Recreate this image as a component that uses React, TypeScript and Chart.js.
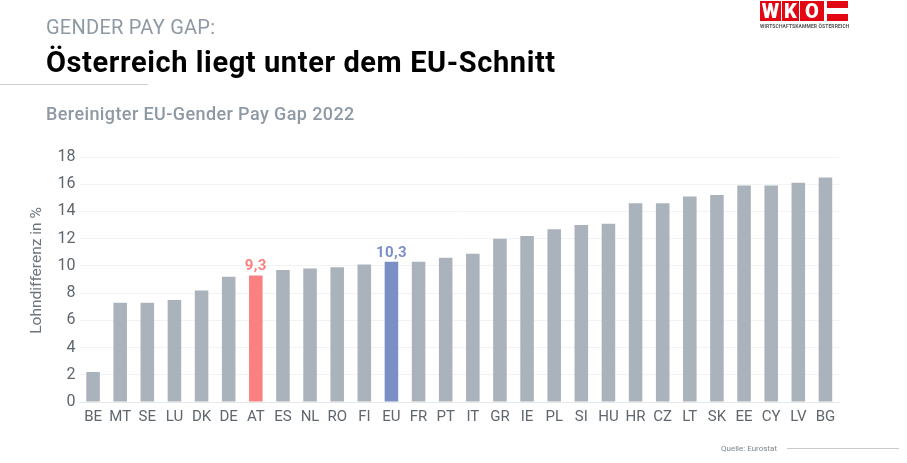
import React, { useEffect, useRef } from "react";
import { Chart, registerables } from "chart.js";

Chart.register(...registerables);

const categories = ["BE","MT","SE","LU","DK","DE","AT","ES","NL","RO","FI","EU","FR","PT","IT","GR","IE","PL","SI","HU","HR","CZ","LT","SK","EE","CY","LV","BG"];
const gapValues = [2.2,7.3,7.3,7.5,8.2,9.2,9.3,9.7,9.8,9.9,10.1,10.3,10.3,10.6,10.9,12.0,12.2,12.7,13.0,13.1,14.6,14.6,15.1,15.2,15.9,15.9,16.1,16.5];
const labelled: Record<string, string> = { AT: "#fb8080", EU: "#7b8fc4" };
const axisTitle = "Lohndifferenz in %";
const barGrey = "#aab3bc";
const FONT = "Roboto, 'Noto Sans', sans-serif";

const valueLabels = {
  id: "valueLabels",
  afterDatasetsDraw(chart: any) {
    const ctx = chart.ctx;
    const meta = chart.getDatasetMeta(0);
    ctx.save();
    ctx.font = `700 15px ${FONT}`;
    ctx.letterSpacing = "0.4px";
    ctx.textAlign = "center";
    ctx.textBaseline = "alphabetic";
    categories.forEach((c, i) => {
      if (!labelled[c]) return;
      ctx.fillStyle = labelled[c];
      ctx.fillText(String(gapValues[i]).replace(".", ","), meta.data[i].x, meta.data[i].y - 5);
    });
    ctx.letterSpacing = "0px";
    ctx.font = `400 15.5px ${FONT}`;
    ctx.fillStyle = "#6d747b";
    ctx.translate(37, 270.5);
    ctx.rotate(-Math.PI / 2);
    ctx.textBaseline = "middle";
    ctx.fillText(axisTitle, 0, 0);
    ctx.restore();
  },
};

const abs = (s: React.CSSProperties): React.CSSProperties => ({ position: "absolute", whiteSpace: "nowrap", fontFamily: FONT, ...s });

const logoBox = (left: number, width: number, letter: string) => (
  <div style={abs({ left, top: 1, width, height: 20, background: "#e30613", color: "#fff", fontWeight: 900, fontSize: 20, lineHeight: "20px", textAlign: "center" })}>{letter}</div>
);

export default function App() {
  const ref = useRef<HTMLCanvasElement>(null);
  useEffect(() => {
    document.body.style.margin = "0";
    const chart = new Chart(ref.current!, {
      type: "bar",
      data: {
        labels: categories,
        datasets: [{
          data: gapValues,
          backgroundColor: categories.map((c) => labelled[c] || barGrey),
          barPercentage: 0.5,
          categoryPercentage: 1,
        }],
      },
      options: {
        responsive: false,
        animation: false,
        layout: { padding: { top: 157, right: 68, left: 0, bottom: 0 } },
        plugins: { legend: { display: false }, tooltip: { enabled: false } },
        scales: {
          x: {
            grid: { display: false, drawTicks: false },
            border: { color: "#e6e8ea" },
            ticks: { color: "#5f666d", font: { family: FONT, size: 15 }, maxRotation: 0, autoSkip: false, padding: 6 },
            afterFit: (s: any) => { s.height = 61; },
          },
          y: {
            min: 0,
            max: 18,
            grid: { color: "#f1f2f3", drawTicks: false },
            border: { display: false },
            ticks: { color: "#5f666d", font: { family: FONT, size: 16 }, stepSize: 2, padding: 4 },
            afterFit: (s: any) => { s.width = 79.5; },
          },
        },
      },
      plugins: [valueLabels],
    });
    return () => chart.destroy();
  }, []);

  return (
    <div style={{ position: "relative", width: 907, height: 463, overflow: "hidden", background: "#fff" }}>
      <canvas ref={ref} width={907} height={463} style={{ position: "absolute", left: 0, top: 0 }} />
      <div style={abs({ left: 46, top: 14, fontSize: 20, letterSpacing: 0.25, color: "#8f99a4", lineHeight: "26px" })}>GENDER PAY GAP:</div>
      <div style={abs({ left: 46, top: 45, fontSize: 29, fontWeight: 700, letterSpacing: 0.6, color: "#000", lineHeight: "34px" })}>Österreich liegt unter dem EU-Schnitt</div>
      <div style={abs({ left: 0, top: 84, width: 148, height: 1, background: "#cfd2d5" })} />
      <div style={abs({ left: 46, top: 102, fontSize: 18, fontWeight: 500, letterSpacing: 0.4, color: "#8f99a4", lineHeight: "23px" })}>Bereinigter EU-Gender Pay Gap 2022</div>
      {logoBox(760, 21, "W")}
      {logoBox(782, 17, "K")}
      {logoBox(800, 24, "O")}
      <div style={abs({ left: 827, top: 1, width: 21, height: 20, background: "linear-gradient(#e30613 0 33%, #fff 33% 66%, #e30613 66%)" })} />
      <div style={abs({ left: 760, top: 23, fontSize: 5, fontWeight: 700, letterSpacing: 0.1, color: "#555", lineHeight: "7px" })}>WIRTSCHAFTSKAMMER ÖSTERREICH</div>
      <div style={abs({ left: 721, top: 444, fontSize: 8, color: "#7d858d", lineHeight: "10px" })}>Quelle: Eurostat</div>
      <div style={abs({ left: 787, top: 448, width: 112, height: 1, background: "#c6cace" })} />
    </div>
  );
}
